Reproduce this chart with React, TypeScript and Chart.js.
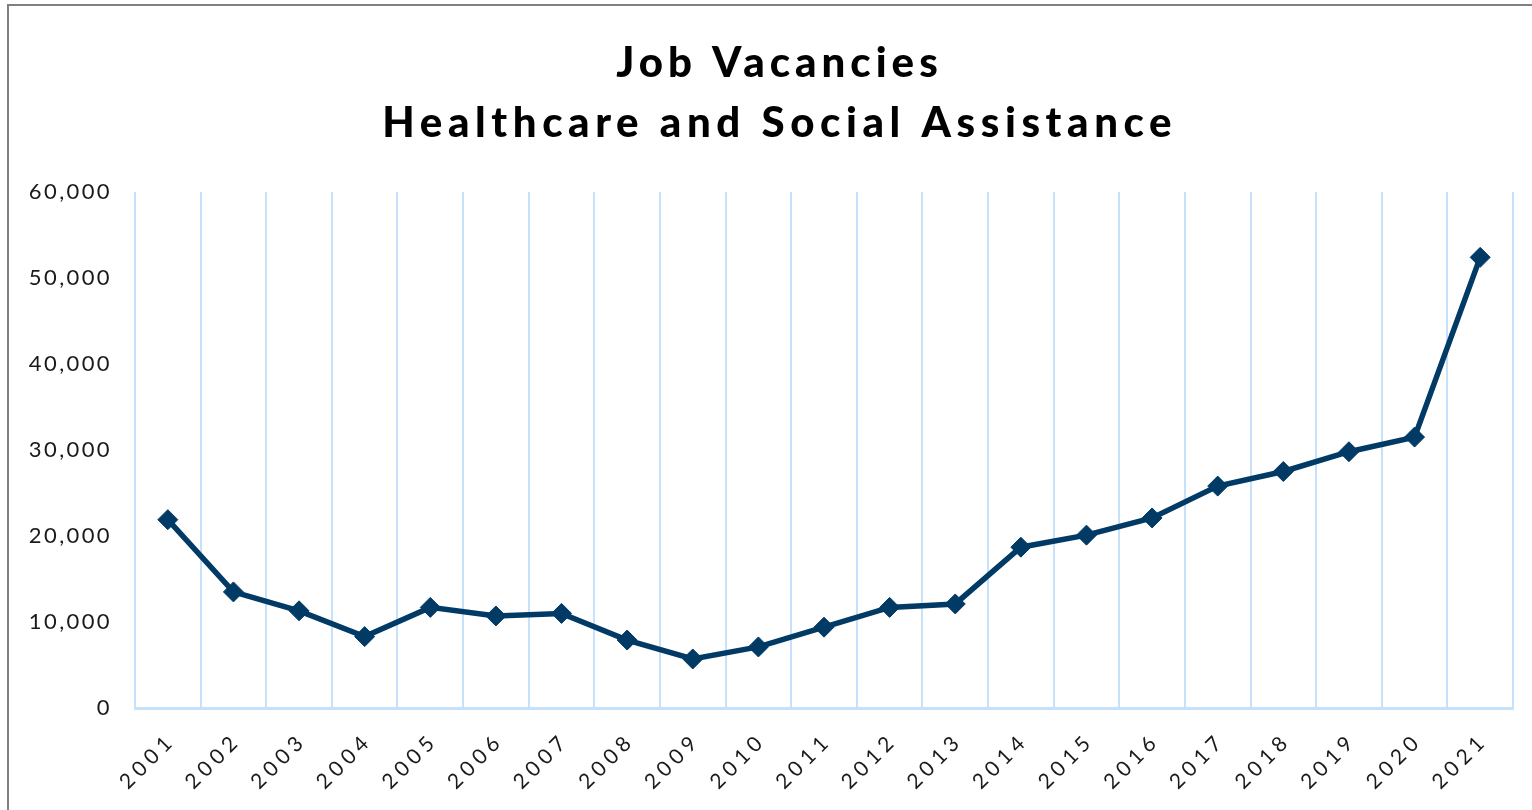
import React, { useEffect, useRef } from "react";
import { Chart, registerables } from "chart.js";

Chart.register(...registerables);

const years = ["2001","2002","2003","2004","2005","2006","2007","2008","2009","2010","2011","2012","2013","2014","2015","2016","2017","2018","2019","2020","2021"];
const vacancies = [21900, 13500, 11300, 8300, 11700, 10700, 11000, 7900, 5700, 7100, 9400, 11700, 12100, 18700, 20100, 22100, 25800, 27500, 29800, 31500, 52400];
const titleLines = ["Job Vacancies", "Healthcare and Social Assistance"];
const yTicks = [0, 10000, 20000, 30000, 40000, 50000, 60000];

const LINE_COLOR = "#023a66";
const GRID_COLOR = "#c6e2fb";

const spacingPlugin = {
  id: "labelSpacing",
  beforeDraw(chart: any) {
    const wrap = (scale: any, spacing: string) => {
      if (!scale || scale.__wrapped) return;
      const orig = scale.drawLabels.bind(scale);
      scale.drawLabels = (area: any) => {
        const ctx = scale.ctx;
        ctx.save();
        ctx.letterSpacing = spacing;
        orig(area);
        ctx.restore();
      };
      scale.__wrapped = true;
    };
    wrap(chart.scales.x, "5px");
    wrap(chart.scales.y, "2.4px");
  },
};

const titlePlugin = {
  id: "spacedTitle",
  afterDraw(chart: any) {
    const ctx = chart.ctx;
    ctx.save();
    ctx.fillStyle = "#000000";
    ctx.font = "900 42px Lato";
    ctx.textBaseline = "middle";
    ctx.textAlign = "left";
    const cx = 777;
    const ys = [63, 123];
    const spacings = [5, 5.6];
    titleLines.forEach((t, i) => {
      (ctx as any).letterSpacing = spacings[i] + "px";
      const w = ctx.measureText(t).width;
      ctx.fillText(t, cx - (w - spacings[i]) / 2, ys[i]);
    });
    ctx.restore();
  },
};

export default function App() {
  const ref = useRef<HTMLCanvasElement | null>(null);
  useEffect(() => {
    if (!ref.current) return;
    const chart = new Chart(ref.current, {
      type: "line",
      data: {
        labels: years,
        datasets: [
          {
            data: vacancies,
            borderColor: LINE_COLOR,
            backgroundColor: LINE_COLOR,
            borderWidth: 5.5,
            pointStyle: "rectRot",
            pointRadius: 10,
            pointBackgroundColor: LINE_COLOR,
            pointBorderColor: LINE_COLOR,
            pointBorderWidth: 1,
            tension: 0,
          },
        ],
      },
      options: {
        animation: false,
        responsive: false,
        maintainAspectRatio: false,
        layout: { padding: { top: 192, right: 19, left: 0, bottom: 0 } },
        plugins: {
          legend: { display: false },
          title: { display: false },
          tooltip: { enabled: false },
        },
        scales: {
          x: {
            offset: true,
            grid: {
              offset: true,
              display: true,
              color: GRID_COLOR,
              lineWidth: 2,
              drawTicks: false,
            },
            border: { display: true, color: GRID_COLOR, width: 3 },
            ticks: {
              minRotation: 45,
              maxRotation: 45,
              padding: 20,
              labelOffset: 4,
              color: "#1a1a1a",
              font: { family: "Lato", size: 21 },
            },
            afterFit(scale: any) {
              scale.height = 102;
            },
          },
          y: {
            min: 0,
            max: 60000,
            afterBuildTicks(scale: any) {
              scale.ticks = yTicks.map((v) => ({ value: v }));
            },
            grid: { display: false, drawTicks: false },
            border: { display: false },
            ticks: {
              padding: 23,
              color: "#1a1a1a",
              font: { family: "Lato", size: 22 },
              callback: (v: any) => Number(v).toLocaleString("en-US"),
            },
            afterFit(scale: any) {
              scale.width = 135;
            },
          },
        },
      },
      plugins: [spacingPlugin, titlePlugin],
    });
    return () => chart.destroy();
  }, []);

  return (
    <div style={{ position: "fixed", left: 0, top: 0, width: 1532, height: 810, overflow: "hidden", background: "#ffffff" }}>
      <div
        style={{
          position: "absolute",
          left: 7,
          top: 4,
          width: 1600,
          height: 900,
          border: "2px solid #808080",
          boxSizing: "border-box",
        }}
      />
      <canvas
        ref={ref}
        width={1532}
        height={810}
        style={{ position: "absolute", left: 0, top: 0, width: 1532, height: 810 }}
      />
    </div>
  );
}
